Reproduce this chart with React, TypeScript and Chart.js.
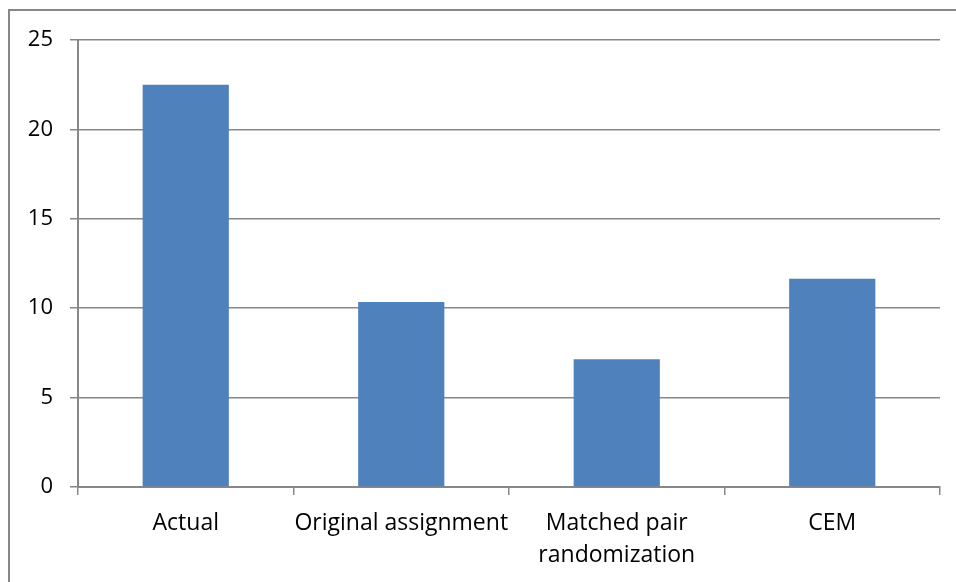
import React, { useEffect, useRef } from "react";
import { Chart, registerables } from "chart.js";

Chart.register(...registerables);

const categories: (string | string[])[] = [
  "Actual",
  "Original assignment",
  ["Matched pair", "randomization"],
  "CEM",
];
const values: number[] = [22.5, 10.35, 7.15, 11.65];
const yMin = 0;
const yMax = 25;
const yStep = 5;

const GRAY = "#878787";
const FONT = "'Open Sans', 'Noto Sans', sans-serif";

const outerBorder = {
  id: "outerBorder",
  beforeDraw(chart: any) {
    const ctx = chart.ctx;
    ctx.save();
    ctx.strokeStyle = GRAY;
    ctx.lineWidth = 2;
    ctx.beginPath();
    ctx.moveTo(9, 582);
    ctx.lineTo(9, 10);
    ctx.lineTo(956, 10);
    ctx.stroke();
    ctx.restore();
  },
};

export default function App() {
  const ref = useRef<HTMLCanvasElement>(null);
  useEffect(() => {
    document.body.style.margin = "0";
    document.body.style.overflow = "hidden";
    const chart = new Chart(ref.current!, {
      type: "bar",
      data: {
        labels: categories as any,
        datasets: [
          {
            data: values,
            backgroundColor: "#4F81BD",
            borderWidth: 0,
            categoryPercentage: 1,
            barPercentage: 0.4,
          },
        ],
      },
      options: {
        animation: false,
        responsive: false,
        maintainAspectRatio: false,
        layout: { padding: { left: 0, right: 16, top: 40, bottom: 0 } },
        plugins: {
          legend: { display: false },
          tooltip: { enabled: false },
        },
        scales: {
          x: {
            grid: {
              display: true,
              drawOnChartArea: false,
              drawTicks: true,
              tickLength: 8,
              color: GRAY,
              lineWidth: 1.5,
              offset: true,
            },
            border: { display: true, color: GRAY, width: 2 },
            ticks: {
              color: "#000",
              font: { family: FONT, size: 23, lineHeight: 1.38 },
              padding: 13,
              maxRotation: 0,
              autoSkip: false,
            },
            afterFit(scale: any) {
              scale.height = 95;
            },
          },
          y: {
            min: yMin,
            max: yMax,
            grid: {
              color: GRAY,
              lineWidth: 1.5,
              tickLength: 8,
            },
            border: { display: true, color: GRAY, width: 2 },
            ticks: {
              stepSize: yStep,
              color: "#000",
              font: { family: FONT, size: 22 },
              padding: 17,
            },
            afterFit(scale: any) {
              scale.width = 78;
            },
          },
        },
      },
      plugins: [outerBorder],
    });
    return () => chart.destroy();
  }, []);
  return (
    <div style={{ position: "absolute", left: 0, top: 0, width: 956, height: 582 }}>
      <canvas ref={ref} width={956} height={582} />
    </div>
  );
}
